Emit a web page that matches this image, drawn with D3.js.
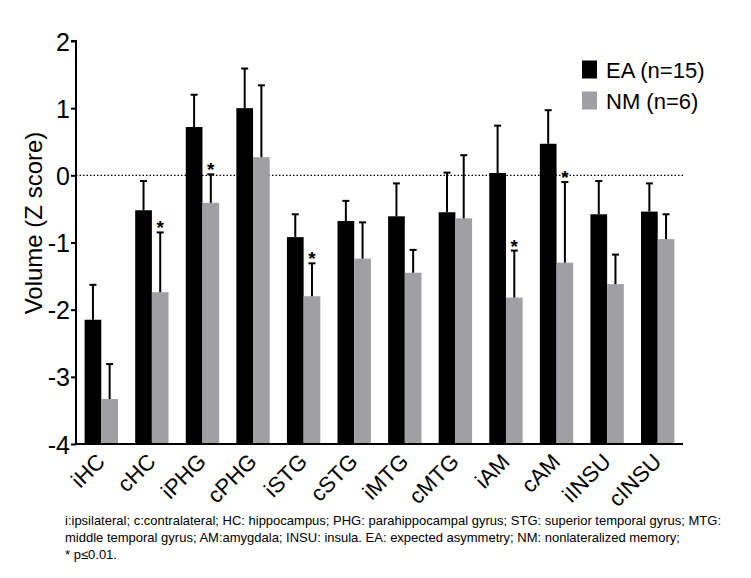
<!DOCTYPE html>
<html>
<head>
<meta charset="utf-8">
<script src="https://cdn.jsdelivr.net/npm/d3@7"></script>
<style>
  html, body { margin: 0; padding: 0; background: #ffffff; }
  svg { display: block; }
  text { font-family: "Liberation Sans", Arial, Helvetica, sans-serif; fill: #000; }
</style>
</head>
<body>
<svg id="chart" width="751" height="578"></svg>
<script>
// ---- data ----
const categories = ["iHC", "cHC", "iPHG", "cPHG", "iSTG", "cSTG", "iMTG", "cMTG", "iAM", "cAM", "iINSU", "cINSU"];
const eaMean = [-2.15, -0.52, 0.72, 1.00, -0.92, -0.68, -0.61, -0.55, 0.035, 0.47, -0.58, -0.54];
const eaErr  = [0.52, 0.435, 0.48, 0.59, 0.34, 0.30, 0.49, 0.59, 0.705, 0.50, 0.495, 0.42];
const nmMean = [-3.33, -1.74, -0.41, 0.27, -1.80, -1.24, -1.45, -0.64, -1.82, -1.30, -1.62, -0.95];
const nmErr  = [0.52, 0.89, 0.425, 1.07, 0.49, 0.54, 0.34, 0.94, 0.70, 1.20, 0.44, 0.37];
const significant = [false, true, true, false, true, false, false, false, true, true, false, false];
const seriesNames = ["EA (n=15)", "NM (n=6)"];
const seriesColors = ["#000000", "#a0a0a4"];
const yTicks = [-4, -3, -2, -1, 0, 1, 2];
const yTickLabels = ["-4", "-3", "-2", "-1", "0", "1", "2"];
const yTitle = "Volume (Z score)";
const footnote = [
  "i:ipsilateral; c:contralateral; HC: hippocampus; PHG: parahippocampal gyrus; STG: superior temporal gyrus; MTG:",
  "middle temporal gyrus; AM:amygdala; INSU: insula. EA: expected asymmetry; NM: nonlateralized memory;",
  "* p\u22640.01."
];

// ---- layout ----
const svg = d3.select("#chart");
const mLeft = 76, mRight = 683, mTop = 41, mBottom = 444;

const x = d3.scaleBand().domain(categories).range([mLeft, mRight]).paddingInner(0.34).paddingOuter(0.17);
const sub = d3.scaleBand().domain([0, 1]).range([0, x.bandwidth()]).padding(0);
const y = d3.scaleLinear().domain([-4, 2]).range([mBottom, mTop]);

const series = [
  { mean: eaMean, err: eaErr },
  { mean: nmMean, err: nmErr }
];

// dotted zero line
svg.append("line")
  .attr("x1", mLeft).attr("x2", mRight)
  .attr("y1", y(0)).attr("y2", y(0))
  .attr("stroke", "#000").attr("stroke-width", 1.2)
  .attr("stroke-dasharray", "1.5,2");

// bars + error bars
series.forEach((s, si) => {
  const g = svg.append("g");
  categories.forEach((c, i) => {
    const bx = x(c) + sub(si);
    const bw = sub.bandwidth();
    const cx = bx + bw / 2;
    g.append("rect")
      .attr("x", bx).attr("width", bw)
      .attr("y", y(s.mean[i]))
      .attr("height", y(-4) - y(s.mean[i]))
      .attr("fill", seriesColors[si]);
    const topV = s.mean[i] + s.err[i];
    g.append("line")
      .attr("x1", cx).attr("x2", cx)
      .attr("y1", y(s.mean[i])).attr("y2", y(topV))
      .attr("stroke", "#000").attr("stroke-width", 2);
    g.append("line")
      .attr("x1", cx - 3.5).attr("x2", cx + 3.5)
      .attr("y1", y(topV)).attr("y2", y(topV))
      .attr("stroke", "#000").attr("stroke-width", 2);
    if (si === 1 && significant[i]) {
      g.append("text")
        .attr("x", cx).attr("y", y(topV) + 2)
        .attr("text-anchor", "middle")
        .attr("font-size", 19)
        .attr("font-weight", "bold")
        .text("*");
    }
  });
});

// y axis
const yAxis = d3.axisLeft(y).tickValues(yTicks).tickSize(5).tickPadding(1)
  .tickFormat((d, i) => yTickLabels[i]);
const yg = svg.append("g").attr("transform", `translate(${mLeft},0)`).call(yAxis);
yg.select(".domain").attr("stroke-width", 2).attr("d", `M-5,${mTop}H0V${mBottom}`);
yg.selectAll(".tick line").attr("stroke-width", 2);
yg.selectAll(".tick text").attr("font-size", 25).attr("font-family", '"Liberation Sans", Arial, sans-serif').attr("dy", "0.36em");

// x axis
const xAxis = d3.axisBottom(x).tickSize(0).tickPadding(0);
const xg = svg.append("g").attr("transform", `translate(0,${mBottom})`).call(xAxis);
xg.select(".domain").attr("stroke-width", 2).attr("d", `M${mLeft - 1},0H${mRight}`);
xg.selectAll(".tick text")
  .attr("font-size", 22)
  .attr("font-family", '"Liberation Sans", Arial, sans-serif')
  .attr("text-anchor", "end")
  .attr("dy", 0)
  .attr("transform", "translate(5,19) rotate(-45)");

// y title
svg.append("text")
  .attr("transform", `translate(42,223) rotate(-90)`)
  .attr("text-anchor", "middle")
  .attr("font-size", 24)
  .text(yTitle);

// legend
const leg = svg.append("g");
seriesNames.forEach((n, i) => {
  leg.append("rect")
    .attr("x", 582).attr("y", 60.5 + i * 31)
    .attr("width", 15).attr("height", 18)
    .attr("fill", seriesColors[i]);
  leg.append("text")
    .attr("x", 606).attr("y", 77.5 + i * 31)
    .attr("font-size", 22)
    .text(n);
});

// footnote
footnote.forEach((t, i) => {
  svg.append("text")
    .attr("x", 65).attr("y", 525 + i * 17)
    .attr("font-size", 13)
    .text(t);
});
</script>
</body>
</html>
